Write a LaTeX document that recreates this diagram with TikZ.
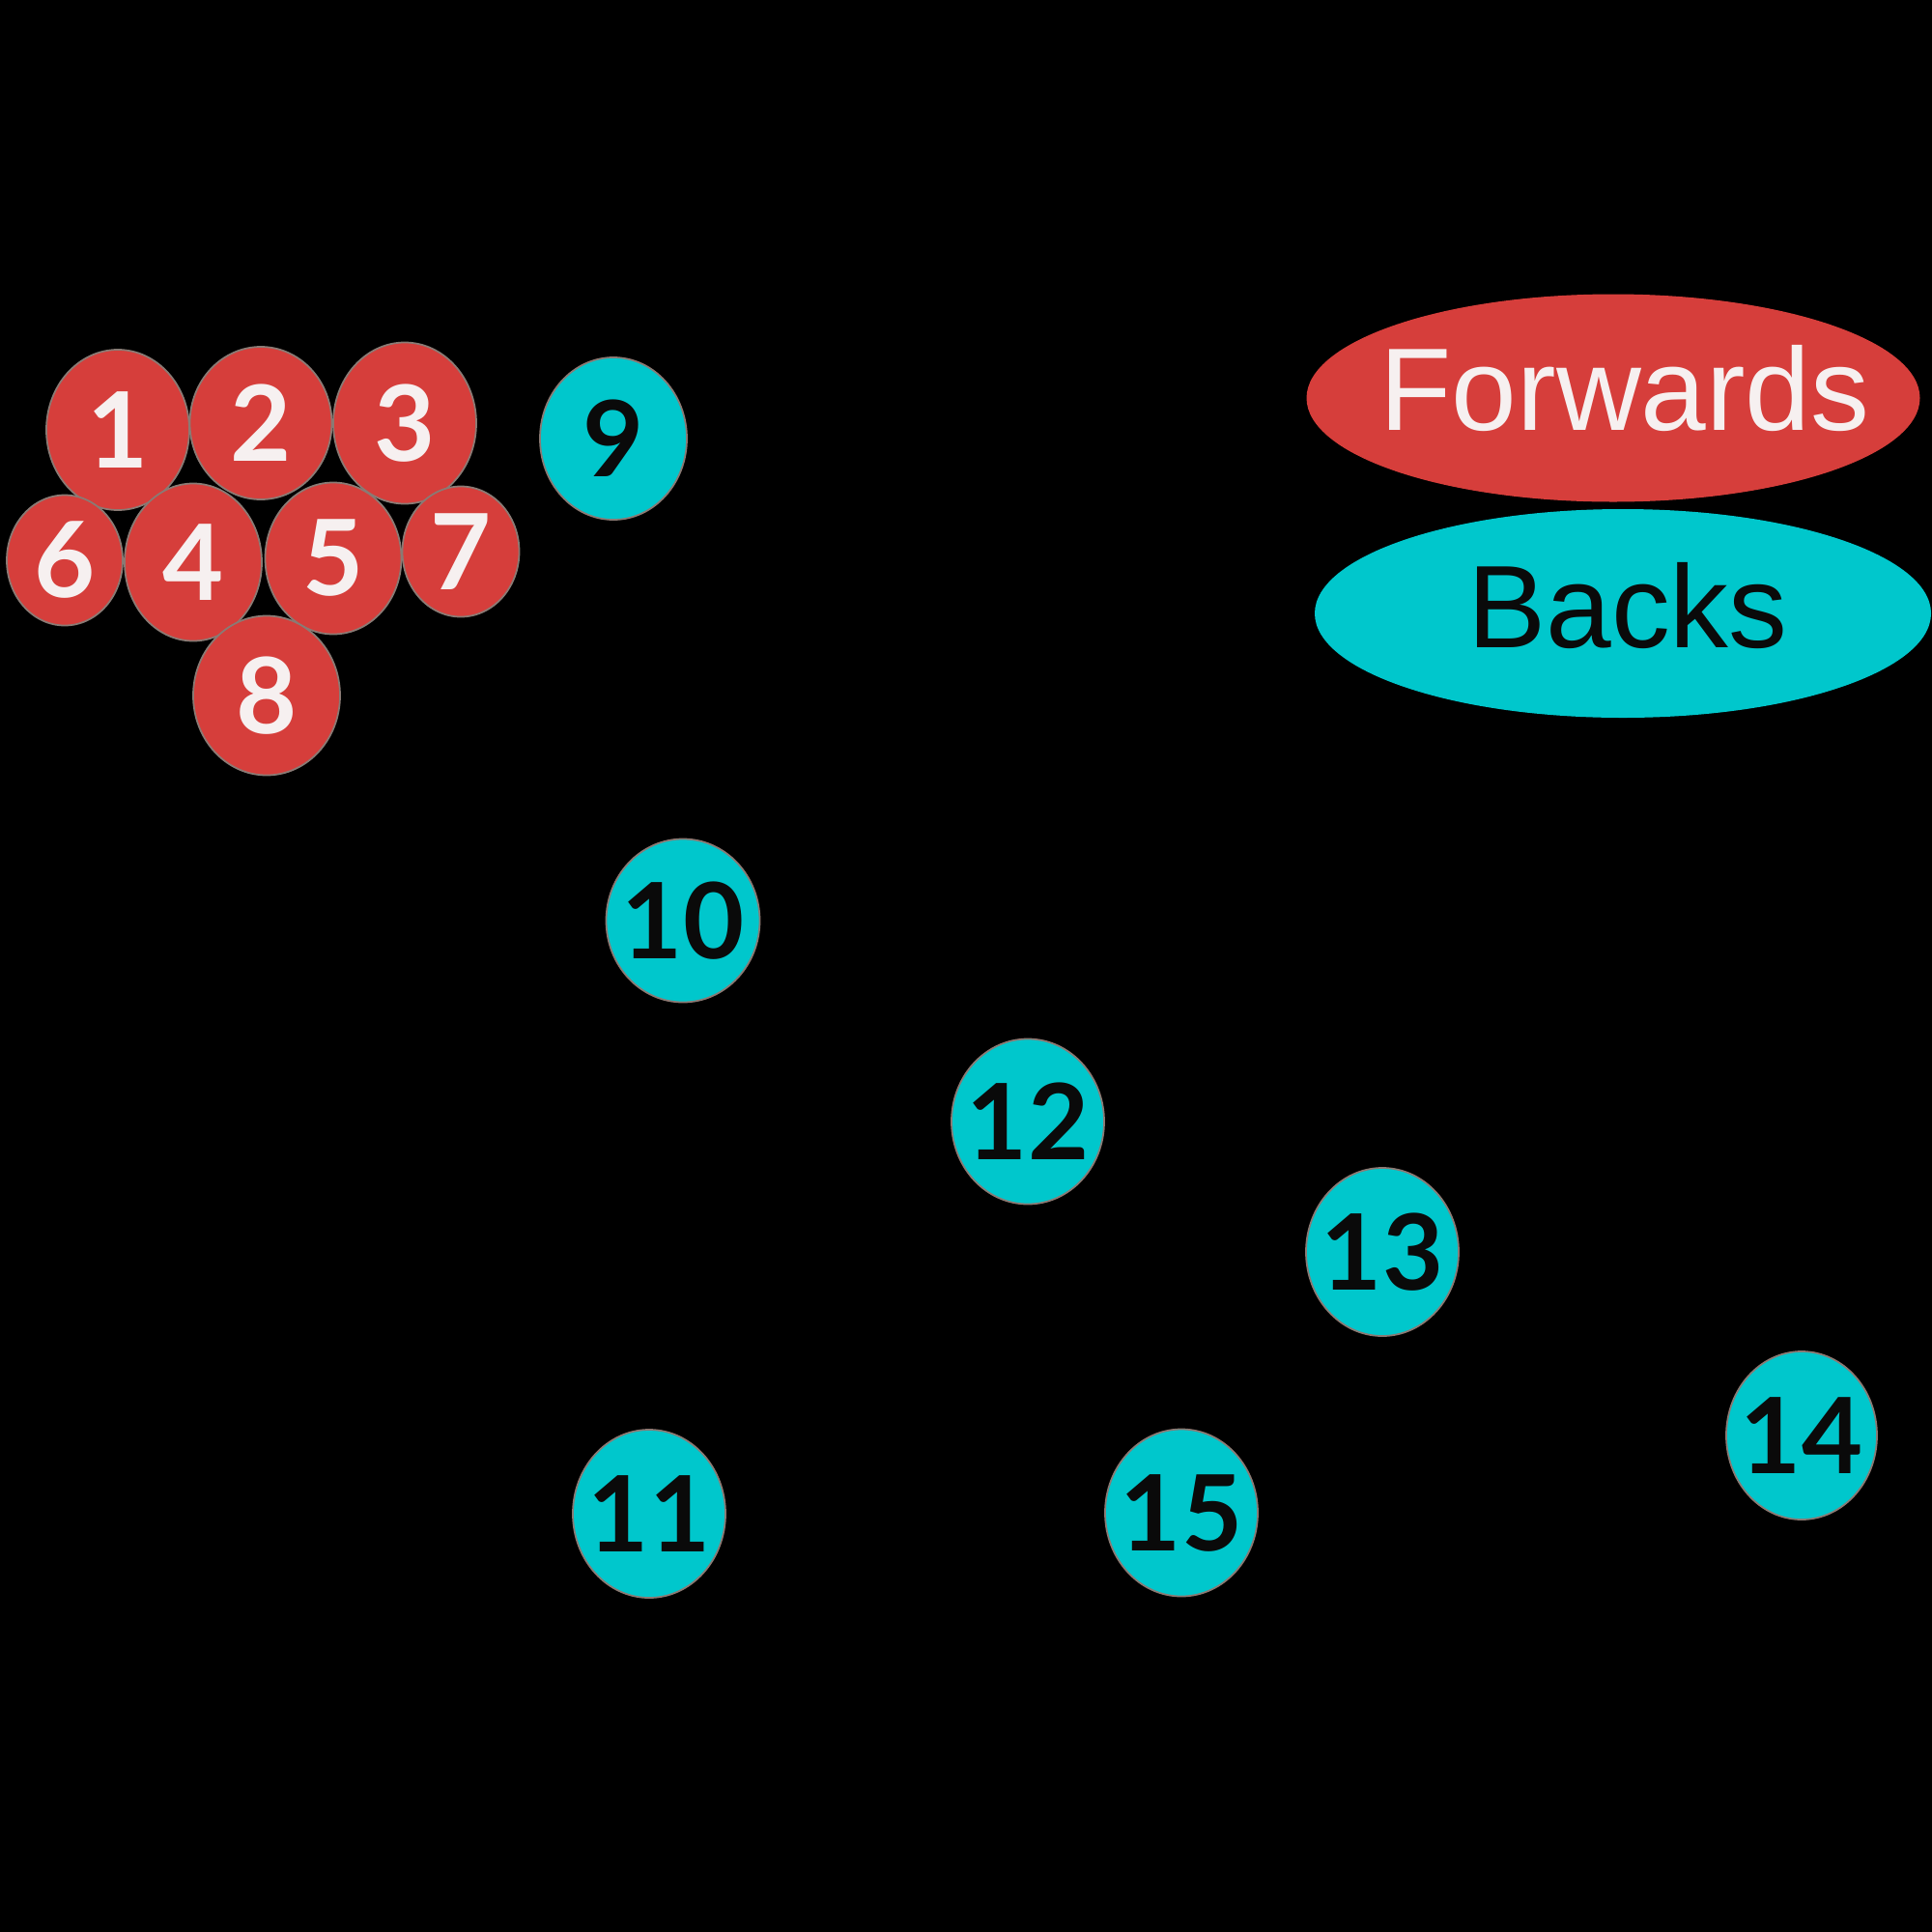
\documentclass[tikz,border=0pt]{standalone}
\usepackage{fontspec}
\setmainfont{Liberation Sans}
\newfontfamily\digitfont{Lato}
\usetikzlibrary{shapes.geometric}
\definecolor{fwdred}{HTML}{D63E3B}
\definecolor{backcyan}{HTML}{00C7CC}
\definecolor{offwhite}{HTML}{F6F0F0}
\definecolor{inkblack}{HTML}{0A0A0A}
\definecolor{fringe}{HTML}{8A7A74}
\tikzset{
  fwd/.style={ellipse, fill=fwdred, draw=fringe, line width=0.5pt, inner sep=0pt, text=offwhite,
    font=\digitfont\fontsize{31}{31}\selectfont\bfseries},
  back/.style={ellipse, fill=backcyan, draw=fringe, line width=0.5pt, inner sep=0pt, text=inkblack,
    font=\digitfont\fontsize{31}{31}\selectfont\bfseries},
  legendtext/.style={font=\fontsize{34.6}{34.6}\selectfont, anchor=base, inner sep=0pt}
}
\newcommand{\nb}[1]{\makebox[0pt]{#1}}
\begin{document}
\begin{tikzpicture}
\fill[black] (0,0) rectangle (20,-20);
\useasboundingbox (0,0) rectangle (20,-20);
% forwards
\node[fwd, minimum width=1.48cm, minimum height=1.66cm] (p1) at (1.22,-4.45) {\nb{1}};
\node[fwd, minimum width=1.47cm, minimum height=1.58cm] (p2) at (2.70,-4.38) {\nb{2}};
\node[fwd, minimum width=1.48cm, minimum height=1.67cm] (p3) at (4.19,-4.38) {\nb{3}};
\node[fwd, minimum width=1.20cm, minimum height=1.35cm] (p6) at (0.67,-5.80) {\nb{6}};
\node[fwd, minimum width=1.42cm, minimum height=1.63cm] (p4) at (2.00,-5.82) {\nb{4}};
\node[fwd, minimum width=1.41cm, minimum height=1.57cm] (p5) at (3.45,-5.78) {\nb{5}};
\node[fwd, minimum width=1.21cm, minimum height=1.35cm] (p7) at (4.77,-5.71) {\nb{7}};
\node[fwd, minimum width=1.52cm, minimum height=1.65cm] (p8) at (2.76,-7.20) {\nb{8}};
% backs
\node[back, minimum width=1.52cm, minimum height=1.68cm] (p9) at (6.35,-4.54) {\nb{9}};
\node[back, minimum width=1.59cm, minimum height=1.69cm] (p10) at (7.07,-9.53) {\nb{10}};
\node[back, minimum width=1.58cm, minimum height=1.71cm] (p12) at (10.64,-11.61) {\nb{12}};
\node[back, minimum width=1.58cm, minimum height=1.74cm] (p13) at (14.31,-12.96) {\nb{13}};
\node[back, minimum width=1.56cm, minimum height=1.74cm] (p14) at (18.65,-14.86) {\nb{14}};
\node[back, minimum width=1.58cm, minimum height=1.74cm] (p11) at (6.72,-15.67) {\nb{11}};
\node[back, minimum width=1.58cm, minimum height=1.73cm] (p15) at (12.23,-15.66) {\nb{15}};
% legend
\node[ellipse, fill=fwdred, inner sep=0pt, minimum width=6.35cm, minimum height=2.15cm] (fwdkey) at (16.70,-4.12) {};
\node[legendtext, text=offwhite] (fwdlabel) at (16.82,-4.45) {Forwards};
\node[ellipse, fill=backcyan, inner sep=0pt, minimum width=6.38cm, minimum height=2.16cm] (backkey) at (16.80,-6.35) {};
\node[legendtext, text=inkblack] (backlabel) at (16.85,-6.70) {Backs};
\end{tikzpicture}
\end{document}
